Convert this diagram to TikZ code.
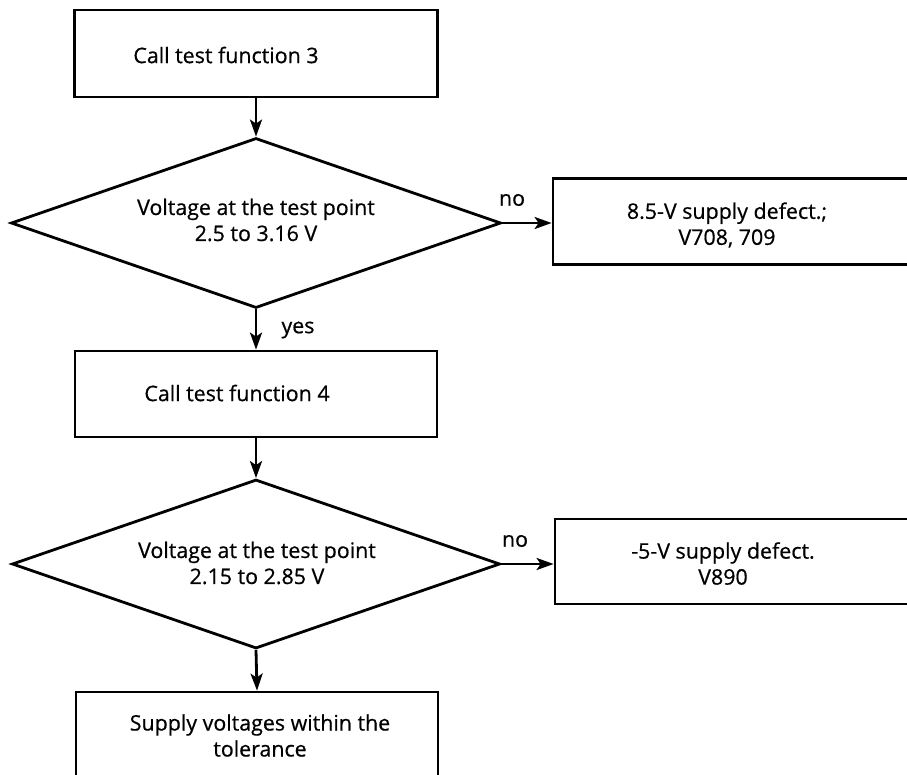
\documentclass[tikz,border=0pt]{standalone}
\usepackage{fontspec}
\setmainfont{Open Sans}[BoldFont=Open Sans,BoldFeatures={FakeBold=0.6}]
\usetikzlibrary{shapes.geometric,arrows.meta}
\begin{document}
\begin{tikzpicture}[x=1pt,y=-1pt,
  every node/.style={font=\fontsize{21.4}{26}\selectfont\bfseries},
  boxn/.style={draw,line width=2.8pt,rectangle,inner sep=0pt},
  decn/.style={draw,line width=2.8pt,diamond,inner sep=0pt},
  txt/.style={align=center,inner sep=0pt},
  conn/.style={line width=2.8pt,-{Stealth[length=17pt,width=12pt,inset=4pt]}}]
\useasboundingbox (0,0) rectangle (907,774);
\clip (0,0) rectangle (907,774);
\fill[white] (0,0) rectangle (907,774);
% process boxes and decisions
\node[boxn,minimum width=363pt,minimum height=87pt] (b1) at (256,53.5) {};
\node[txt] (b1t) at (226,55) {Call test function 3};
\node[decn,minimum width=490pt,minimum height=170pt] (d1) at (256,223) {};
\node[txt] (d1t) at (256,220) {Voltage at the test point\\2.5 to 3.16 V};
\node[boxn,minimum width=377pt,minimum height=86pt] (e1) at (741.5,221.5) {};
\node[txt] (e1t) at (727,225) {8.5-V supply defect.;\\V708, 709};
\node[boxn,minimum width=362pt,minimum height=86pt] (b2) at (256,394) {};
\node[txt] (b2t) at (237,393) {Call test function 4};
\node[decn,minimum width=488pt,minimum height=169pt] (d2) at (256,564) {};
\node[txt] (d2t) at (257,563) {Voltage at the test point\\2.15 to 2.85 V};
\node[boxn,minimum width=375pt,minimum height=85pt] (e2) at (742.5,561.5) {};
\node[txt] (e2t) at (723,563.5) {-5-V supply defect.\\V890};
\node[boxn,minimum width=362pt,minimum height=108pt] (b3) at (257,746) {};
\node[txt] (b3t) at (260,735.5) {Supply voltages within the\\tolerance};
% connectors
\draw[conn] (b1.south) -- (d1.north);
\draw[conn] (d1.south) -- (b2.north);
\draw[conn] (b2.south) -- (d2.north);
\draw[conn] (d2.south) -- (b3.north);
\draw[conn] (d1.east) -- (d1.east -| e1.west);
\draw[conn] (d2.east) -- (d2.east -| e2.west);
% labels
\node[txt] (l1) at (512,200) {no};
\node[txt] (l2) at (515,541) {no};
\node[txt] (l3) at (298,330) {yes};
\end{tikzpicture}
\end{document}
